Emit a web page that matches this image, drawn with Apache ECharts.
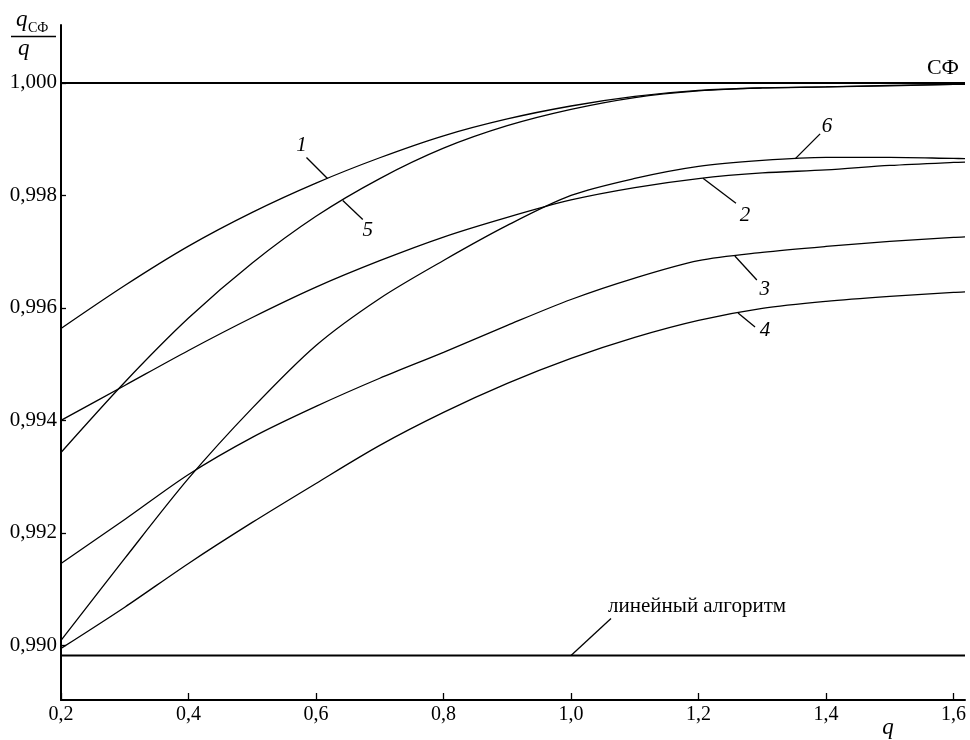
<!DOCTYPE html>
<html>
<head>
<meta charset="utf-8">
<script src="https://cdn.jsdelivr.net/npm/echarts@6/dist/echarts.min.js"></script>
<style>
  html, body { margin: 0; padding: 0; background: #fff; }
  #chart { width: 970px; height: 740px; }
</style>
</head>
<body>
<div id="chart"></div>
<script>
// q values (abscissa) shared by all curves
const qValues = [0.2, 0.3, 0.4, 0.5, 0.6, 0.7, 0.8, 0.9, 1.0, 1.1, 1.2, 1.3, 1.4, 1.5, 1.6, 1.618];

// ratio q_СФ / q for each numbered curve
const curve1 = [0.995636, 0.9964, 0.9971, 0.9977, 0.99822, 0.99867, 0.99906, 0.99936, 0.99959, 0.99976, 0.999867, 0.999911, 0.999929, 0.999956, 0.999973, 0.999975];
const curve2 = [0.994, 0.994622, 0.995244, 0.99583, 0.99637, 0.99684, 0.99726, 0.99761, 0.99792, 0.99814, 0.9983, 0.9984, 0.998453, 0.998533, 0.998587, 0.998592];
const curve3 = [0.991458, 0.99224, 0.99304, 0.9937, 0.99425, 0.99475, 0.99521, 0.99569, 0.99615, 0.99653, 0.99684, 0.996987, 0.997093, 0.997182, 0.997253, 0.997262];
const curve4 = [0.989947, 0.99068, 0.991458, 0.992187, 0.99288, 0.993556, 0.994142, 0.994658, 0.995102, 0.995476, 0.995778, 0.995991, 0.996116, 0.996204, 0.996276, 0.996285];
const curve5 = [0.993431, 0.99468, 0.99582, 0.9968, 0.99763, 0.9983, 0.99884, 0.99924, 0.99953, 0.99974, 0.999858, 0.999911, 0.999929, 0.999947, 0.999973, 0.999975];
const curve6 = [0.990089, 0.991547, 0.992969, 0.994219, 0.995333, 0.996169, 0.996844, 0.997467, 0.998, 0.998302, 0.998516, 0.998622, 0.998676, 0.998676, 0.998658, 0.998656];

// reference levels
const levelSF = 1.000;        // СФ
const levelLinear = 0.98982;  // линейный алгоритм

// tick labels
const xTicks = [0.2, 0.4, 0.6, 0.8, 1.0, 1.2, 1.4, 1.6];
const yTicks = [0.990, 0.992, 0.994, 0.996, 0.998, 1.000];

const X_MIN = 0.2, X_MAX = 1.618;
const Y_MIN = 0.98903, Y_MAX = 1.00103;

const serif = "'Liberation Serif', 'DejaVu Serif', serif";

const curves = [
  { name: '1', data: curve1 },
  { name: '2', data: curve2 },
  { name: '3', data: curve3 },
  { name: '4', data: curve4 },
  { name: '5', data: curve5 },
  { name: '6', data: curve6 }
];

function pairs(arr) { return qValues.map((q, i) => [q, arr[i]]); }

const chart = echarts.init(document.getElementById('chart'), null, { renderer: 'canvas' });

const series = curves.map(c => ({
  name: c.name,
  type: 'line',
  data: pairs(c.data),
  showSymbol: false,
  smooth: 0.3,
  lineStyle: { color: '#000', width: 1.3 },
  silent: true,
  z: 3
}));

series.push({
  name: 'СФ',
  type: 'line',
  data: [[X_MIN, levelSF], [X_MAX, levelSF]],
  showSymbol: false,
  lineStyle: { color: '#000', width: 2 },
  silent: true,
  z: 2
});
series.push({
  name: 'линейный алгоритм',
  type: 'line',
  data: [[X_MIN, levelLinear], [X_MAX, levelLinear]],
  showSymbol: false,
  lineStyle: { color: '#000', width: 2 },
  silent: true,
  z: 2
});

chart.setOption({
  backgroundColor: '#fff',
  animation: false,
  grid: { left: 61, right: 5, top: 25, bottom: 40, containLabel: false },
  xAxis: {
    type: 'value',
    min: X_MIN,
    max: X_MAX,
    axisLine: { show: true, lineStyle: { color: '#000', width: 2 } },
    axisTick: { show: true, inside: true, length: 7, customValues: xTicks, lineStyle: { color: '#000', width: 1.3 } },
    axisLabel: {
      customValues: xTicks,
      margin: 5,
      color: '#000',
      fontFamily: serif,
      fontSize: 20,
      formatter: v => v.toFixed(1).replace('.', ',')
    },
    splitLine: { show: false }
  },
  yAxis: {
    type: 'value',
    min: Y_MIN,
    max: Y_MAX,
    axisLine: { show: true, lineStyle: { color: '#000', width: 2 } },
    axisTick: { show: true, inside: true, length: 5, customValues: yTicks, lineStyle: { color: '#000', width: 1.3 } },
    axisLabel: {
      customValues: yTicks,
      margin: 4,
      color: '#000',
      fontFamily: serif,
      fontSize: 21,
      formatter: v => v.toFixed(3).replace('.', ',')
    },
    splitLine: { show: false }
  },
  series: series
});

// value of a curve at q, read along its data points
function valueAt(arr, q) {
  for (let i = 0; i < qValues.length - 1; i++) {
    if (q >= qValues[i] && q <= qValues[i + 1]) {
      const t = (q - qValues[i]) / (qValues[i + 1] - qValues[i]);
      return arr[i] + t * (arr[i + 1] - arr[i]);
    }
  }
  return arr[arr.length - 1];
}

function px(q, v) { return chart.convertToPixel({ gridIndex: 0 }, [q, v]); }

// curve callouts: anchor on the curve, leader end offset, label offset
const callouts = [
  { text: '1', arr: curve1, q: 0.618, lead: [-21, -21], lab: [-26, -33] },
  { text: '5', arr: curve5, q: 0.642, lead: [20, 19], lab: [25, 30] },
  { text: '6', arr: curve6, q: 1.3515, lead: [25, -25], lab: [32, -32] },
  { text: '2', arr: curve2, q: 1.207, lead: [33, 25], lab: [42, 37] },
  { text: '3', arr: curve3, q: 1.257, lead: [22, 24], lab: [30, 34] },
  { text: '4', arr: curve4, q: 1.262, lead: [17, 14], lab: [27, 17] }
];

const graphics = [];
callouts.forEach(c => {
  const p = px(c.q, valueAt(c.arr, c.q));
  graphics.push({
    type: 'line',
    shape: { x1: p[0], y1: p[1], x2: p[0] + c.lead[0], y2: p[1] + c.lead[1] },
    style: { stroke: '#000', lineWidth: 1.3 },
    z: 10
  });
  graphics.push({
    type: 'text',
    x: p[0] + c.lab[0],
    y: p[1] + c.lab[1],
    style: {
      text: c.text,
      font: 'italic 21px ' + serif,
      fill: '#000',
      textAlign: 'center',
      textVerticalAlign: 'middle'
    },
    z: 10
  });
});

// linear algorithm callout
const pLin = px(1.0, levelLinear);
graphics.push({
  type: 'line',
  shape: { x1: pLin[0], y1: pLin[1], x2: pLin[0] + 40, y2: pLin[1] - 37 },
  style: { stroke: '#000', lineWidth: 1.3 },
  z: 10
});
graphics.push({
  type: 'text',
  x: pLin[0] + 37,
  y: pLin[1] - 49,
  style: {
    text: 'линейный алгоритм',
    font: '21px ' + serif,
    fill: '#000',
    textAlign: 'left',
    textVerticalAlign: 'middle'
  },
  z: 10
});

// СФ label above the unit level
const pSF = px(X_MAX, levelSF);
graphics.push({
  type: 'text',
  x: pSF[0] - 6,
  y: pSF[1] - 15,
  style: {
    text: 'СФ',
    font: '22px ' + serif,
    fill: '#000',
    textAlign: 'right',
    textVerticalAlign: 'middle'
  },
  z: 10
});

// y axis title: q_СФ / q
graphics.push({
  type: 'text', x: 16, y: 20,
  style: { text: 'q', font: 'italic 23px ' + serif, fill: '#000', textAlign: 'left', textVerticalAlign: 'middle' }
});
graphics.push({
  type: 'text', x: 28, y: 28,
  style: { text: 'СФ', font: '14px ' + serif, fill: '#000', textAlign: 'left', textVerticalAlign: 'middle' }
});
graphics.push({
  type: 'line',
  shape: { x1: 11, y1: 36.5, x2: 56, y2: 36.5 },
  style: { stroke: '#000', lineWidth: 1.5 }
});
graphics.push({
  type: 'text', x: 18, y: 49,
  style: { text: 'q', font: 'italic 23px ' + serif, fill: '#000', textAlign: 'left', textVerticalAlign: 'middle' }
});

// x axis title
graphics.push({
  type: 'text', x: 888, y: 728,
  style: { text: 'q', font: 'italic 23px ' + serif, fill: '#000', textAlign: 'center', textVerticalAlign: 'middle' }
});

chart.setOption({ graphic: graphics });
</script>
</body>
</html>
